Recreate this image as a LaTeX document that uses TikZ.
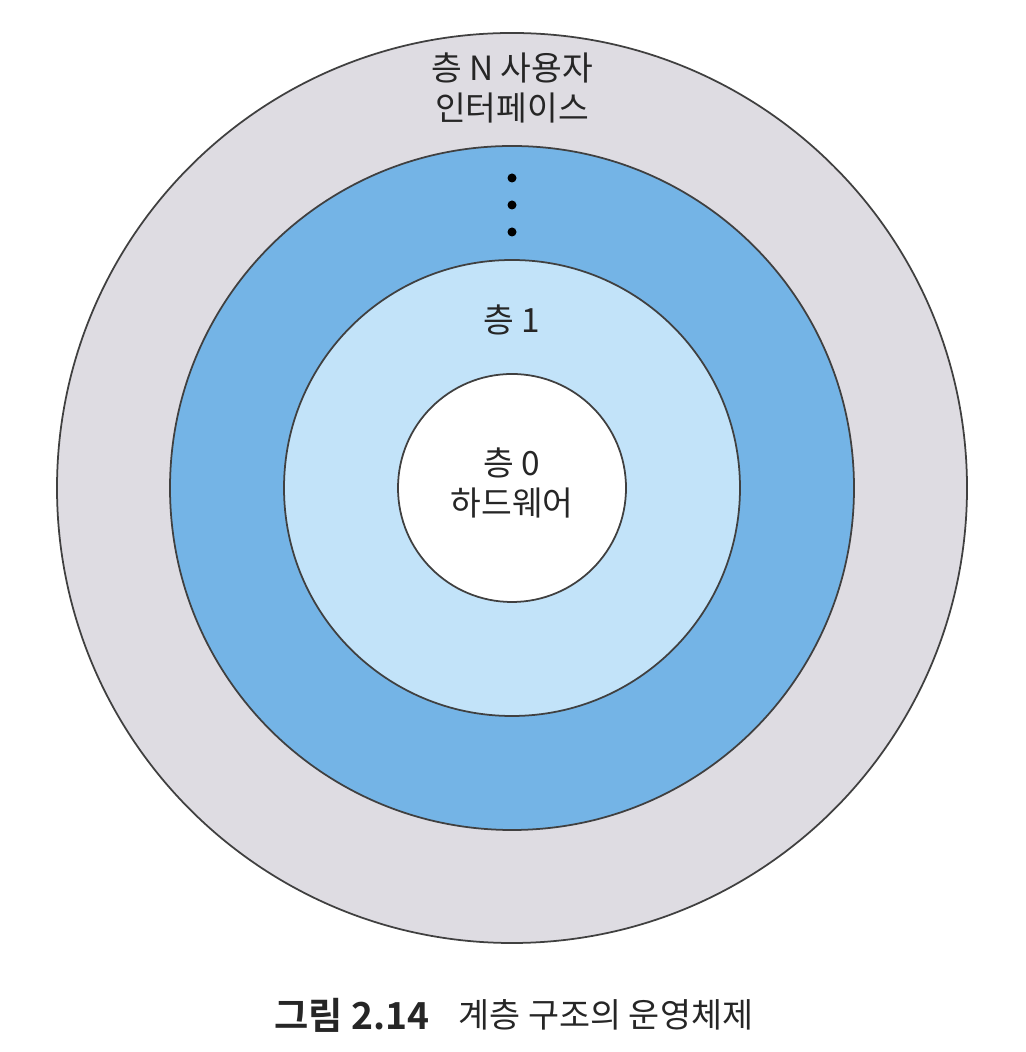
\documentclass[tikz,border=0pt]{standalone}
\usepackage{fontspec}
\setmainfont{Noto Sans CJK KR}[BoldFont={Noto Sans CJK KR Bold}]
\usepackage{tikz}
\definecolor{outergrey}{RGB}{222,220,226}
\definecolor{midblue}{RGB}{116,180,230}
\definecolor{paleblue}{RGB}{194,227,249}
\tikzset{ring/.style = {draw=black!75, line width=.5pt},
  lbl/.style = {align=center, font=\fontsize{9.5}{11.4}\selectfont, text=black!85},
  dot/.style = {circle, fill=black, inner sep=0pt, minimum size=.09cm}}

\begin{document}
\begin{tikzpicture}
      \useasboundingbox (-5.12,-5.64) rectangle (5.14,4.88);
      \draw [ring, fill=outergrey] (0,0) circle (4.55);
      \draw [ring, fill=midblue] (0,0) circle (3.42);
      \draw [ring, fill=paleblue] (0,0) circle (2.28);
      \draw [ring, fill=white] (0,0) circle (1.14);
      \node [lbl] (layerN) at (0,4.0) {층 N 사용자\\인터페이스};
      \node [dot] (d1) at (0,3.10) {};
      \node [dot] (d2) at (0,2.83) {};
      \node [dot] (d3) at (0,2.56) {};
      \node [lbl] (layer1) at (0,1.68) {층 1};
      \node [lbl] (layer0) at (0,.05) {층 0\\하드웨어};
      \node [lbl, inner sep=0pt, font=\fontsize{10.6}{12}\selectfont\bfseries, anchor=east] (fignum) at (-.82,-5.27) {그림 2.14};
      \node [lbl, inner sep=0pt, font=\fontsize{9.6}{12}\selectfont, anchor=west] (figtitle) at (-.54,-5.27) {계층 구조의 운영체제};
    \end{tikzpicture}
\end{document}
